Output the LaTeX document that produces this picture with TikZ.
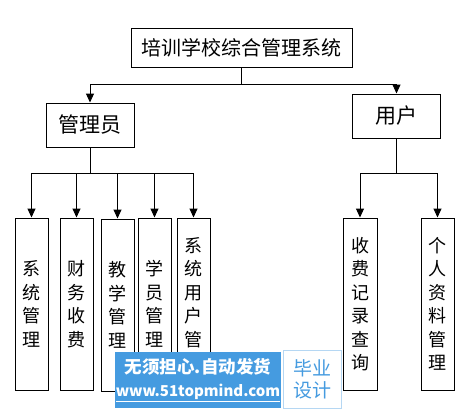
\documentclass[tikz,border=0pt]{standalone}
\usepackage{fontspec}
\newfontfamily\cjk{Noto Sans CJK SC}
\usetikzlibrary{arrows.meta}
\definecolor{wmblue}{HTML}{459BE0}

\begin{document}
\begin{tikzpicture}[
    x=1pt, y=-1pt, >={Triangle[length=9pt,width=8pt]}, line width=1pt,
    font=\cjk,
    box/.style  ={draw, line width=1pt, inner sep=0pt, align=center},
    head/.style ={box, font=\cjk\fontsize{20}{24}\selectfont},
    role/.style ={box, minimum width=88pt, minimum height=44pt,
                  font=\cjk\fontsize{21}{24}\selectfont},
    leaf/.style ={box, minimum width=33pt, minimum height=172pt,
                  font=\cjk\fontsize{18}{23.5}\selectfont},
    wm/.style   ={fill=wmblue, text=white, inner sep=0pt, align=center},
  ]
  \useasboundingbox (0,0) rectangle (458,408);

  % --- top ---
  \node[head, minimum width=221pt, minimum height=39pt] (sys) at (241.5,47.5) {培训学校综合管理系统};
  \node[role] (adm) at (90,125)    {管理员};
  \node[role] (usr) at (396.5,116) {用户};
  \coordinate (j0) at (241.5,84);
  \draw (sys) -- (j0);
  \draw[->] (j0) -| (adm);
  \draw[->] (j0) -| (usr);

  % --- admin leaves ---
  \node[leaf] (sm) at (31.5,304)  {系\\统\\管\\理};
  \node[leaf] (cw) at (76.5,304)  {财\\务\\收\\费};
  \node[leaf] (jx) at (117.5,305) {教\\学\\管\\理};
  \node[leaf] (xy) at (154.5,304) {学\\员\\管\\理};
  \node[leaf] (yh) at (193.5,304) {系\\统\\用\\户\\管\\理};
  \coordinate (j1) at (90,173);
  \draw (adm) -- (j1);
  \foreach \n in {sm,cw,jx,xy,yh}
    \draw[->] (j1) -| (\n);

  % --- user leaves ---
  \node[leaf, minimum width=34pt] (sf) at (360,304)   {收\\费\\记\\录\\查\\询};
  \node[leaf] (gr) at (437.5,304) {个\\人\\资\\料\\管\\理};
  \coordinate (j2) at (396.5,173);
  \draw (usr) -- (j2);
  \draw[->] (j2) -| (sf);
  \draw[->] (j2) -| (gr);

  % --- stamp ---
  \node[wm, minimum width=166pt, minimum height=56pt] (stamp) at (198,380) {};
  \node[text=white, font=\cjk\bfseries\fontsize{17.5}{20}\selectfont] (st1) at (198,367) {无须担心.自动发货};
  \node[text=white, font=\cjk\bfseries\fontsize{15}{17}\selectfont] (st2) at (198,393) {\underline{www.51topmind.com}};
  \node[draw=wmblue!40, fill=white, minimum width=58pt, minimum height=58pt, inner sep=0pt] (tag) at (312,379) {};
  \node[text=wmblue, font=\cjk\fontsize{19}{22}\selectfont, align=center] (tagt) at (tag) {毕业\\设计};
\end{tikzpicture}
\end{document}
